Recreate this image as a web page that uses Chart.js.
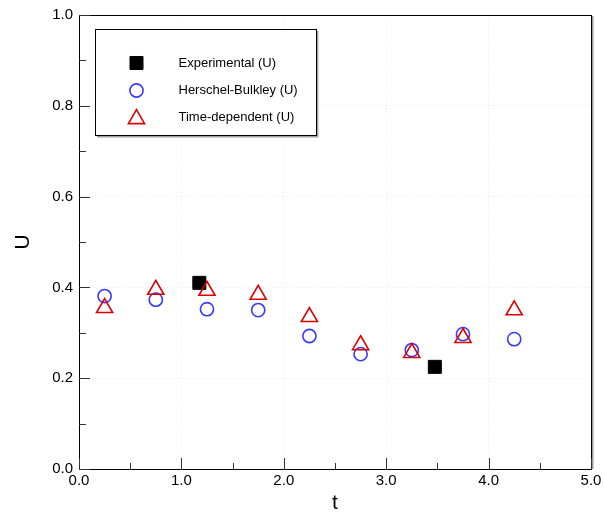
<!DOCTYPE html>
<html>
<head>
<meta charset="utf-8">
<script src="https://cdn.jsdelivr.net/npm/chart.js@4/dist/chart.umd.min.js"></script>
<style>
  html, body { margin: 0; padding: 0; background: #ffffff; }
  #wrap { width: 605px; height: 520px; }
</style>
</head>
<body>
<div id="wrap"><canvas id="c" width="605" height="520"></canvas></div>
<script>
// ---- data ----
const seriesNames = ['Experimental (U)', 'Herschel-Bulkley (U)', 'Time-dependent (U)'];
const tExp = [1.175, 3.475];
const uExp = [0.410, 0.225];
const tSim = [0.25, 0.75, 1.25, 1.75, 2.25, 2.75, 3.25, 3.75, 4.25];
const uHB  = [0.381, 0.373, 0.352, 0.350, 0.293, 0.253, 0.262, 0.297, 0.286];
const uTD  = [0.355, 0.395, 0.393, 0.384, 0.335, 0.273, 0.256, 0.289, 0.350];
const xTicks = [0, 1, 2, 3, 4, 5];
const yTicks = [0, 0.2, 0.4, 0.6, 0.8, 1.0];
const xTitle = 't';
const yTitle = 'U';

const FONT = "'Liberation Sans', Arial, Helvetica, sans-serif";
const BLUE = '#3a3aff';
const RED = '#dd0000';

function pts(xs, ys) { return xs.map((x, i) => ({ x: x, y: ys[i] })); }

const styles = [
  { pointStyle: 'rect', radius: 9.2, bg: '#000000', border: '#000000', bw: 1 },
  { pointStyle: 'circle', radius: 6.6, bg: 'rgba(0,0,0,0)', border: BLUE, bw: 1.6 },
  { pointStyle: 'triangle', radius: 9.3, bg: 'rgba(0,0,0,0)', border: RED, bw: 1.6 }
];

const datasets = [
  { label: seriesNames[0], data: pts(tExp, uExp), order: 2 },
  { label: seriesNames[1], data: pts(tSim, uHB), order: 1 },
  { label: seriesNames[2], data: pts(tSim, uTD), order: 0 }
].map((d, i) => Object.assign(d, {
  showLine: false,
  pointStyle: styles[i].pointStyle,
  pointRadius: styles[i].radius,
  pointHoverRadius: styles[i].radius,
  backgroundColor: styles[i].bg,
  borderColor: styles[i].border,
  pointBackgroundColor: styles[i].bg,
  pointBorderColor: styles[i].border,
  pointBorderWidth: styles[i].bw
}));

function drawMarker(ctx, st, x, y) {
  ctx.save();
  ctx.fillStyle = st.bg;
  ctx.strokeStyle = st.border;
  ctx.lineWidth = st.bw;
  if (Chart.helpers && Chart.helpers.drawPoint) {
    Chart.helpers.drawPoint(ctx, { pointStyle: st.pointStyle, radius: st.radius, rotation: 0, borderWidth: st.bw }, x, y);
  }
  ctx.restore();
}

const framePlugin = {
  id: 'frame',
  afterDraw(chart) {
    const ctx = chart.ctx;
    const a = chart.chartArea;
    const xs = chart.scales.x, ys = chart.scales.y;
    ctx.save();
    // frame shadow on right
    ctx.strokeStyle = '#9a9a9a';
    ctx.lineWidth = 2;
    ctx.beginPath();
    ctx.moveTo(a.right + 1.5, a.top + 1);
    ctx.lineTo(a.right + 1.5, a.bottom);
    ctx.stroke();
    // frame
    ctx.strokeStyle = '#000000';
    ctx.lineWidth = 1;
    ctx.strokeRect(Math.round(a.left) + 0.5, Math.round(a.top) + 0.5,
      Math.round(a.right - a.left), Math.round(a.bottom - a.top));
    // inward ticks
    ctx.strokeStyle = '#333333';
    ctx.lineWidth = 1;
    const xt = xs.ticks.map(t => t.value);
    const yt = ys.ticks.map(t => t.value);
    function tickX(v, len) {
      const p = Math.round(xs.getPixelForValue(v)) + 0.5;
      ctx.beginPath(); ctx.moveTo(p, a.bottom); ctx.lineTo(p, a.bottom - len); ctx.stroke();
    }
    function tickY(v, len) {
      const p = Math.round(ys.getPixelForValue(v)) + 0.5;
      ctx.beginPath(); ctx.moveTo(a.left, p); ctx.lineTo(a.left + len, p); ctx.stroke();
    }
    xt.forEach((v, i) => {
      tickX(v, 11);
      if (i < xt.length - 1) tickX((v + xt[i + 1]) / 2, 6);
    });
    yt.forEach((v, i) => {
      tickY(v, 11);
      if (i < yt.length - 1) tickY((v + yt[i + 1]) / 2, 7);
    });
    // legend box
    const bx = a.left + 16.5, by = a.top + 14.5, bw = 221, bh = 106;
    ctx.strokeStyle = '#a0a0a0';
    ctx.lineWidth = 1.5;
    ctx.beginPath();
    ctx.moveTo(bx + bw + 1.2, by + 1.5); ctx.lineTo(bx + bw + 1.2, by + bh + 1.2); ctx.lineTo(bx + 1.5, by + bh + 1.2);
    ctx.stroke();
    ctx.fillStyle = '#ffffff';
    ctx.fillRect(bx, by, bw, bh);
    ctx.strokeStyle = '#000000';
    ctx.lineWidth = 1;
    ctx.strokeRect(bx, by, bw, bh);
    ctx.font = '13px ' + FONT;
    ctx.textBaseline = 'middle';
    ctx.textAlign = 'left';
    const rowsY = [by + 33.5, by + 61, by + 88];
    chart.data.datasets.forEach((d, i) => {
      drawMarker(ctx, styles[i], bx + 41, rowsY[i] + (i === 2 ? 1.5 : 0));
      ctx.fillStyle = '#000000';
      ctx.fillText(d.label, bx + 83, rowsY[i]);
    });
    ctx.restore();
  }
};

new Chart(document.getElementById('c'), {
  type: 'scatter',
  data: { datasets: datasets },
  options: {
    responsive: false,
    animation: false,
    events: [],
    layout: { padding: { top: 14, right: 14, left: 0, bottom: 0 } },
    plugins: { legend: { display: false }, tooltip: { enabled: false } },
    scales: {
      x: {
        type: 'linear', min: 0, max: 5,
        afterBuildTicks: s => { s.ticks = xTicks.map(v => ({ value: v })); },
        afterFit: s => { s.height = 51; },
        ticks: { callback: v => Number(v).toFixed(1), font: { family: FONT, size: 15 }, color: '#000', padding: 3, maxRotation: 0 },
        grid: { display: true, drawTicks: false, color: 'rgba(0,0,0,0.07)', lineWidth: 1 },
        border: { display: true, color: '#000', width: 1, dash: [1, 2] },
        title: { display: true, text: xTitle, font: { family: FONT, size: 21 }, color: '#000', padding: { top: 0, bottom: 4 } }
      },
      y: {
        type: 'linear', min: 0, max: 1,
        afterBuildTicks: s => { s.ticks = yTicks.map(v => ({ value: v })); },
        afterFit: s => { s.width = 79; },
        ticks: { callback: v => Number(v).toFixed(1), font: { family: FONT, size: 15 }, color: '#000', padding: 6 },
        grid: { display: true, drawTicks: false, color: 'rgba(0,0,0,0.07)', lineWidth: 1 },
        border: { display: true, color: '#000', width: 1, dash: [1, 2] },
        title: { display: true, text: yTitle, font: { family: FONT, size: 21 }, color: '#000', padding: { top: 11, bottom: 0 } }
      }
    }
  },
  plugins: [framePlugin]
});
</script>
</body>
</html>
